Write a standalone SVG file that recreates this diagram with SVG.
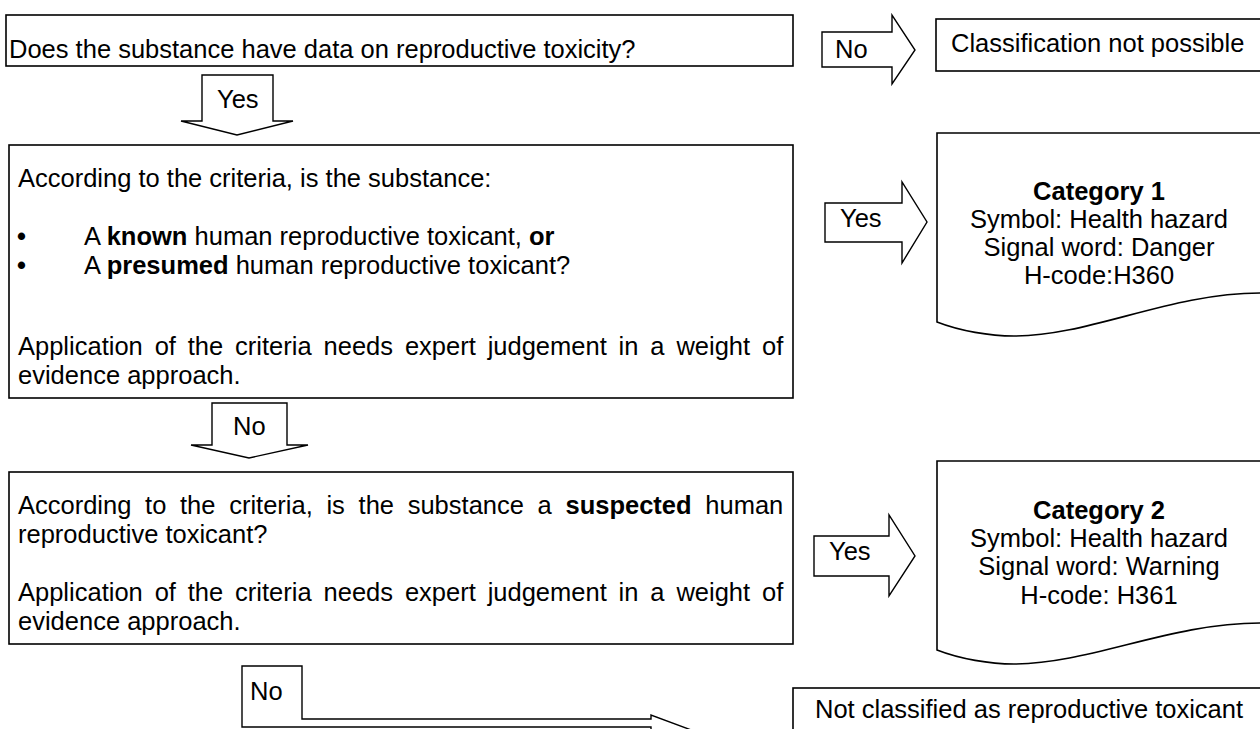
<svg xmlns="http://www.w3.org/2000/svg" width="1260" height="729" viewBox="0 0 1260 729">
<style>
.t{font-family:"Liberation Sans",Arial,sans-serif;font-size:25.5px;fill:#000}
.b{font-weight:bold}
.m{text-anchor:middle}
.box{fill:#fff;stroke:#000;stroke-width:1.6}
.arr{fill:#fff;stroke:#000;stroke-width:1.4;stroke-linejoin:miter}
</style>
<rect width="1260" height="729" fill="#fff"/>
<g id="connectors">
<g id="a-yes1"><polygon class="arr" points="202,75 273,75 273,121 293,121 237,135 181,121 202,121"/><text class="t" x="217" y="108">Yes</text></g>
<g id="a-no1"><polygon class="arr" points="822,32 892,32 892,15 915,50 892,84 892,67 822,67"/><text class="t" x="835" y="58">No</text></g>
<g id="a-yes2"><polygon class="arr" points="825,203 902,203 902,182 927,222 902,263 902,242 825,242"/><text class="t" x="840" y="227">Yes</text></g>
<g id="a-no2"><polygon class="arr" points="212,403 287,403 287,445 308,445 249,458 191,445 212,445"/><text class="t" x="233" y="435">No</text></g>
<g id="a-yes3"><polygon class="arr" points="814,536 889,536 889,515 915,556 889,596 889,576 814,576"/><text class="t" x="829" y="560">Yes</text></g>
<g id="a-no3"><path class="arr" d="M242,666 H302 V719 H651 V715 L710,737 L651,760 V727 H242 Z"/><text class="t" x="250" y="700">No</text></g>
</g>
<g id="q1"><rect class="box" x="6" y="15" width="787" height="51"/><text class="t" x="9" y="58">Does the substance have data on reproductive toxicity?</text></g>
<g id="n-notpossible"><rect class="box" x="936" y="19" width="340" height="52"/><text class="t" x="951" y="52">Classification not possible</text></g>
<g id="q2"><rect class="box" x="9" y="145" width="784" height="253"/>
<text class="t" x="18" y="187">According to the criteria, is the substance:</text>
<text class="t b" x="17" y="245">•</text><text class="t" x="84" y="245">A <tspan class="b">known</tspan> human reproductive toxicant, <tspan class="b">or</tspan></text>
<text class="t b" x="17" y="274">•</text><text class="t" x="84" y="274">A <tspan class="b">presumed</tspan> human reproductive toxicant?</text>
<text class="t" x="18" y="355" word-spacing="4.8">Application of the criteria needs expert judgement in a weight of</text>
<text class="t" x="18" y="384">evidence approach.</text></g>
<g id="cat1"><path class="box" d="M937,133 H1275 V293 L1260,293 C1170,293 1090,336 1014,336 C990,336 960,331 937,322 Z"/>
<text class="t b m" x="1099" y="200">Category 1</text>
<text class="t m" x="1099" y="228">Symbol: Health hazard</text>
<text class="t m" x="1099" y="256">Signal word: Danger</text>
<text class="t m" x="1099" y="284">H-code:H360</text></g>
<g id="q3"><rect class="box" x="9" y="472" width="784" height="172"/>
<text class="t" x="18" y="514" word-spacing="6.6">According to the criteria, is the substance a <tspan class="b">suspected</tspan> human</text>
<text class="t" x="18" y="543">reproductive toxicant?</text>
<text class="t" x="18" y="601" word-spacing="4.8">Application of the criteria needs expert judgement in a weight of</text>
<text class="t" x="18" y="630">evidence approach.</text></g>
<g id="cat2"><path class="box" d="M937,461 H1275 V623 L1260,623 C1170,623 1090,664 1014,664 C990,664 960,659 937,650 Z"/>
<text class="t b m" x="1099" y="519">Category 2</text>
<text class="t m" x="1099" y="547">Symbol: Health hazard</text>
<text class="t m" x="1099" y="575">Signal word: Warning</text>
<text class="t m" x="1099" y="604">H-code: H361</text></g>
<g id="n-notclassified"><rect class="box" x="793" y="688" width="480" height="60"/><text class="t" x="815" y="718">Not classified as reproductive toxicant</text></g>
</svg>
